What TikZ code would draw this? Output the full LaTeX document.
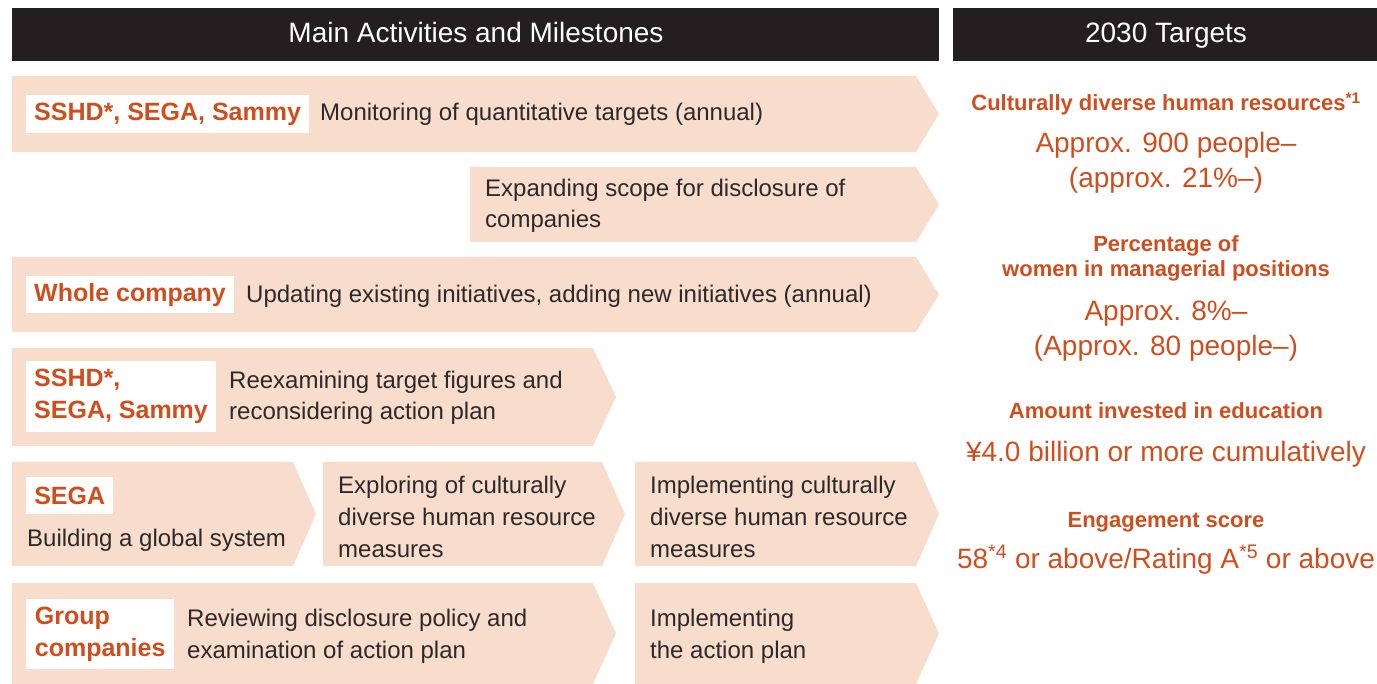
\documentclass[tikz,border=0pt]{standalone}
\usepackage{fontspec}
\setmainfont{Liberation Sans}
\definecolor{peach}{RGB}{248,220,204}
\definecolor{org}{RGB}{208,78,30}
\definecolor{blk}{RGB}{35,31,32}
\definecolor{txt}{RGB}{45,41,42}
\newcommand\chevshape[4]{\fill[chev] (#1,#3) -- (#2,#3) -- ({#2+23},{(#3+#4)/2}) -- (#2,#4) -- (#1,#4) -- cycle;}
\begin{document}
\begin{tikzpicture}[x=1pt,y=-1pt,
  chev/.style={fill=peach},
  bar/.style={fill=blk},
  head/.style={anchor=base, inner sep=0, text=white, font=\fontsize{28}{34}\selectfont},
  desc/.style={anchor=base west, inner sep=0, align=left, text=txt, font=\fontsize{24}{31.5}\selectfont},
  lbl/.style={fill=white, anchor=north west, inner xsep=8, inner ysep=0, text=org, align=left, font=\bfseries\fontsize{25}{32}\selectfont},
  tb/.style={anchor=base, inner sep=0, align=center, text=org, font=\bfseries\fontsize{22}{25}\selectfont},
  tv/.style={anchor=base, inner sep=0, align=center, text=org, font=\fontsize{28}{35}\selectfont}
]
\useasboundingbox (0,0) rectangle (1377,684);
% header bars
\fill[bar] (12,8) rectangle (939,61);
\fill[bar] (953,8) rectangle (1377,61);
\node[head] (h1) at (476,43) {Main Activities and Milestones};
\node[head] (h2) at (1166,43) {2030 Targets};
% chevrons
\chevshape{12}{916}{76}{152}
\chevshape{470}{916}{167}{242}
\chevshape{12}{916}{257}{332}
\chevshape{12}{593}{348}{446}
\chevshape{12}{293}{462}{566}
\chevshape{323}{602}{462}{566}
\chevshape{635}{916}{462}{566}
\chevshape{12}{593}{583}{684}
\chevshape{635}{916}{583}{684}
% row 1
\node[lbl, minimum width=281, minimum height=38] (l1) at (26,95) {SSHD*, SEGA, Sammy};
\node[desc] (d1) at (320,121) {Monitoring of quantitative targets (annual)};
% row 2 (multi-line nodes: base = last line)
\node[desc] (d2) at (485,228) {Expanding scope for disclosure of\\companies};
% row 3
\node[lbl, minimum width=207, minimum height=37] (l3) at (26,276) {Whole company};
\node[desc] (d3) at (246,303) {Updating existing initiatives, adding new initiatives (annual)};
% row 4
\node[lbl, minimum width=189, minimum height=71] (l4) at (26,361) {SSHD*,\\SEGA, Sammy};
\node[desc] (d4) at (229,420) {Reexamining target figures and\\reconsidering action plan};
% row 5
\node[lbl, minimum width=87, minimum height=37] (l5) at (26,477) {SEGA};
\node[desc] (d5a) at (27,547) {Building a global system};
\node[desc] (d5b) at (338,557) {Exploring of culturally\\diverse human resource\\measures};
\node[desc] (d5c) at (650,557) {Implementing culturally\\diverse human resource\\measures};
% row 6
\node[lbl, minimum width=148, minimum height=70] (l6) at (26,599) {Group\\companies};
\node[desc] (d6a) at (187,658) {Reviewing disclosure policy and\\examination of action plan};
\node[desc] (d6b) at (650,658) {Implementing\\the action plan};
% targets
\node[tb] (t1) at (1166,111) {Culturally diverse human resources\textsuperscript{*1}};
\node[tv] (v1) at (1166,188) {Approx. 900 people–\\(approx. 21\%–)};
\node[tb] (t2) at (1166,277) {Percentage of\\women in managerial positions};
\node[tv] (v2) at (1166,356) {Approx. 8\%–\\(Approx. 80 people–)};
\node[tb] (t3) at (1166,419) {Amount invested in education};
\node[tv] (v3) at (1166,462) {¥4.0 billion or more cumulatively};
\node[tb] (t4) at (1166,527) {Engagement score};
\node[tv] (v4) at (1166,568) {58\textsuperscript{*4} or above/Rating A\textsuperscript{*5} or above};
\end{tikzpicture}
\end{document}
